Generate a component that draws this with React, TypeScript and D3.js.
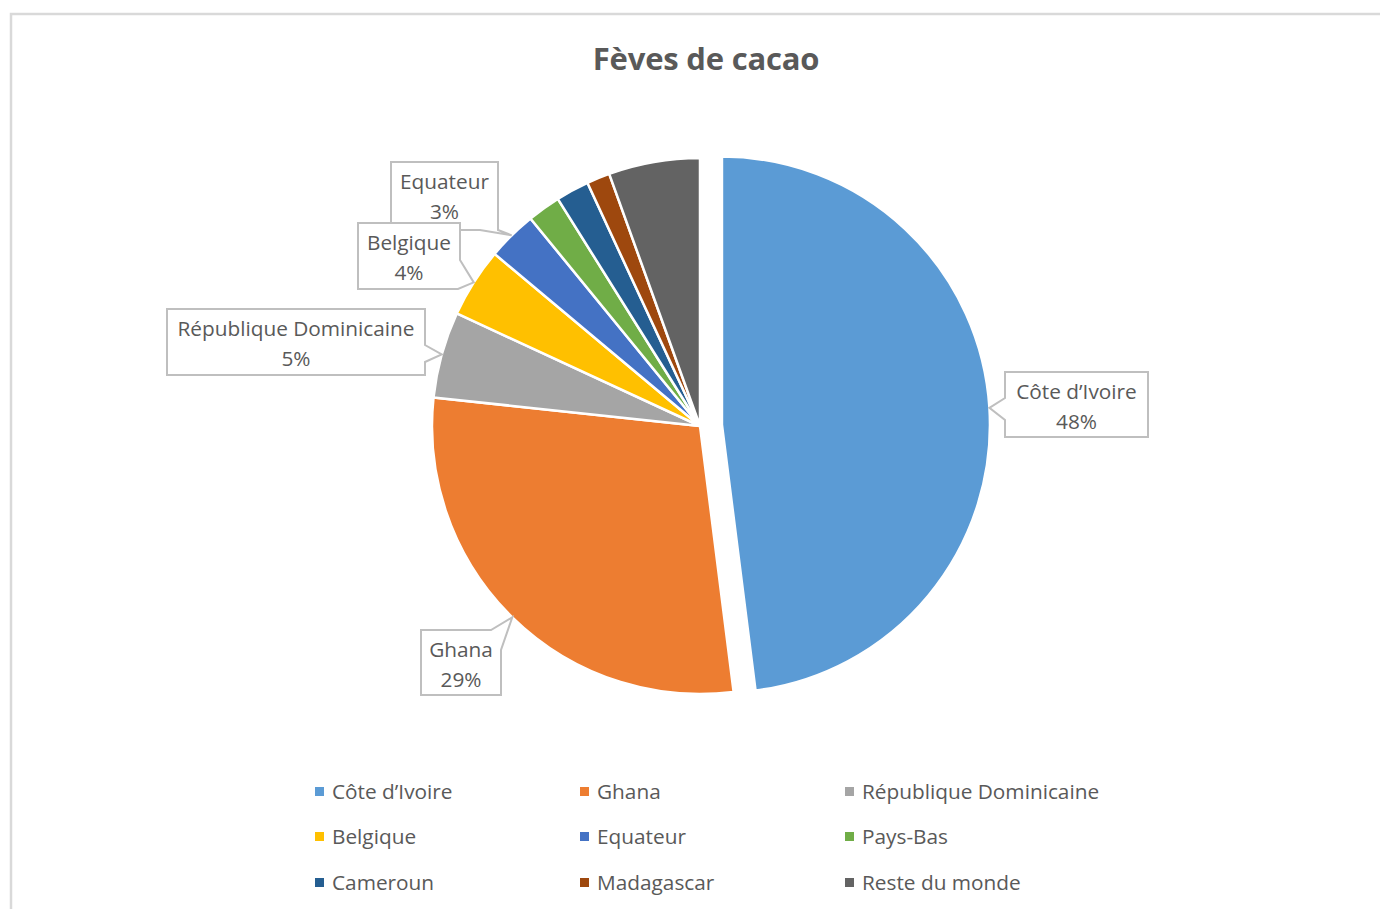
import React from "react";
import * as d3 from "d3";

const categories = [
  "Côte d’Ivoire",
  "Ghana",
  "République Dominicaine",
  "Belgique",
  "Equateur",
  "Pays-Bas",
  "Cameroun",
  "Madagascar",
  "Reste du monde",
];
const values = [48, 28.7, 5.2, 4.2, 3.0, 2.0, 2.0, 1.4, 5.5];
const colors = [
  "#5B9BD5",
  "#ED7D31",
  "#A5A5A5",
  "#FFC000",
  "#4472C4",
  "#70AD47",
  "#255E91",
  "#9E480E",
  "#636363",
];
const title = "Fèves de cacao";

if (typeof document !== "undefined") {
  document.body.style.margin = "0";
}

const W = 1380;
const H = 909;
const CX = 700;
const CY = 426;
const R = 268;
const EXPLODE = 22;
const FONT = "'Open Sans', 'Noto Sans', sans-serif";
const TEXT = "#595959";
const FS = 20.8;

type Box = { x: number; y: number; w: number; h: number; kind: string; a: number; b: number };
// callout boxes for labelled slices (layout only)
const boxes: Record<number, Box> = {
  0: { x: 1005, y: 372, w: 143, h: 65, kind: "left", a: 26, b: 48 },
  1: { x: 421, y: 630, w: 80, h: 65, kind: "topright", a: 10, b: 20 },
  2: { x: 167, y: 309, w: 258, h: 66, kind: "right", a: 36, b: 53 },
  3: { x: 358, y: 223, w: 102, h: 66, kind: "bottomright", a: 37, b: 2 },
  4: { x: 391, y: 162, w: 107, h: 68, kind: "bottom", a: 0, b: 18 },
};

function calloutPath(bx: Box, tx: number, ty: number) {
  const { x, y, w, h, kind, a, b } = bx;
  const p = d3.path();
  p.moveTo(x, y);
  if (kind === "topright") {
    p.lineTo(x + w - a, y);
    p.lineTo(tx, ty);
    p.lineTo(x + w, y + b);
    p.lineTo(x + w, y + h);
    p.lineTo(x, y + h);
  } else if (kind === "right") {
    p.lineTo(x + w, y);
    p.lineTo(x + w, y + a);
    p.lineTo(tx, ty);
    p.lineTo(x + w, y + b);
    p.lineTo(x + w, y + h);
    p.lineTo(x, y + h);
  } else if (kind === "bottomright") {
    p.lineTo(x + w, y);
    p.lineTo(x + w, y + a);
    p.lineTo(tx, ty);
    p.lineTo(x + w - b, y + h);
    p.lineTo(x, y + h);
  } else if (kind === "bottom") {
    p.lineTo(x + w, y);
    p.lineTo(x + w - a, y + h);
    p.lineTo(tx, ty);
    p.lineTo(x + w - b, y + h);
    p.lineTo(x, y + h);
  } else {
    // left
    p.lineTo(x + w, y);
    p.lineTo(x + w, y + h);
    p.lineTo(x, y + h);
    p.lineTo(x, y + b);
    p.lineTo(tx, ty);
    p.lineTo(x, y + a);
  }
  p.closePath();
  return p.toString();
}

export default function App() {
  const total = d3.sum(values);
  const pie = d3
    .pie<number>()
    .sort(null)
    .value((d) => d)
    .startAngle(0)
    .endAngle(2 * Math.PI);
  const arcs = pie(values);
  const arc = d3.arc<d3.PieArcDatum<number>>().innerRadius(0).outerRadius(R);

  const offsetOf = (i: number) => {
    if (i !== 0) return [0, 0];
    const m = (arcs[i].startAngle + arcs[i].endAngle) / 2;
    return [EXPLODE * Math.sin(m), -EXPLODE * Math.cos(m)];
  };

  const legendCols = [315, 580, 845];
  const legendRows = [792, 837, 883];

  const labelIdx = Object.keys(boxes).map(Number).sort((p, q) => q - p);

  return (
    <svg width={W} height={H} style={{ display: "block", background: "#fff" }}>
      <rect x={11} y={14} width={W + 20} height={H + 20} fill="#fff" stroke="#d9d9d9" strokeWidth={2.5} />
      <text
        x={706}
        y={70}
        textAnchor="middle"
        fontFamily={FONT}
        fontWeight={700}
        fontSize={31}
        fill={TEXT}
        letterSpacing={-0.2}
      >
        {title}
      </text>
      <g transform={`translate(${CX},${CY})`}>
        {arcs.map((d, i) => {
          const [dx, dy] = offsetOf(i);
          return (
            <path
              key={i}
              d={arc(d) as string}
              transform={`translate(${dx},${dy})`}
              fill={colors[i]}
              stroke="#fff"
              strokeWidth={2.5}
              strokeLinejoin="round"
            />
          );
        })}
      </g>
      {labelIdx.map((i) => {
        const d = arcs[i];
        const m = (d.startAngle + d.endAngle) / 2;
        const [dx, dy] = offsetOf(i);
        const tx = CX + dx + R * Math.sin(m);
        const ty = CY + dy - R * Math.cos(m);
        const bx = boxes[i];
        const pct = Math.round((values[i] / total) * 100) + "%";
        const cxText = bx.x + bx.w / 2;
        return (
          <g key={"l" + i}>
            <path d={calloutPath(bx, tx, ty)} fill="#fff" stroke="#bfbfbf" strokeWidth={2} />
            <text x={cxText} y={bx.y + 27} textAnchor="middle" fontFamily={FONT} fontSize={FS} fill={TEXT}>
              {categories[i]}
            </text>
            <text x={cxText} y={bx.y + 57} textAnchor="middle" fontFamily={FONT} fontSize={FS} fill={TEXT}>
              {pct}
            </text>
          </g>
        );
      })}
      {categories.map((c, i) => {
        const col = i % 3;
        const row = Math.floor(i / 3);
        const x = legendCols[col];
        const y = legendRows[row];
        return (
          <g key={"lg" + i}>
            <rect x={x} y={y - 5} width={9} height={9} fill={colors[i]} />
            <text x={x + 17} y={y + 7} fontFamily={FONT} fontSize={FS} fill={TEXT}>
              {c}
            </text>
          </g>
        );
      })}
    </svg>
  );
}
